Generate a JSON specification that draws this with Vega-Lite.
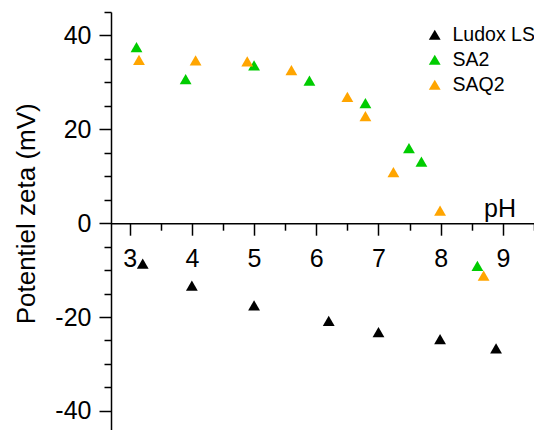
{
  "$schema": "https://vega.github.io/schema/vega-lite/v6.json",
  "width": 423,
  "height": 420,
  "autosize": {"type": "none"},
  "padding": {"left": 111, "top": 12, "right": 0, "bottom": 0},
  "background": "white",
  "config": {
    "view": {"stroke": null},
    "font": "Liberation Sans",
    "axis": {"grid": false, "domainColor": "#000000", "tickColor": "#000000", "labelColor": "#000000", "titleColor": "#000000", "domainWidth": 1.5, "tickWidth": 1.5, "labelFont": "Liberation Sans", "titleFont": "Liberation Sans", "titleFontWeight": "normal"}
  },
  "data": {
    "values": [
      {"pH": 3.21, "zeta": -8.6, "sample": "Ludox LS"},
      {"pH": 4.0, "zeta": -13.3, "sample": "Ludox LS"},
      {"pH": 5.0, "zeta": -17.5, "sample": "Ludox LS"},
      {"pH": 6.2, "zeta": -20.8, "sample": "Ludox LS"},
      {"pH": 7.0, "zeta": -23.2, "sample": "Ludox LS"},
      {"pH": 7.99, "zeta": -24.7, "sample": "Ludox LS"},
      {"pH": 8.89, "zeta": -26.7, "sample": "Ludox LS"},
      {"pH": 3.11, "zeta": 37.5, "sample": "SA2"},
      {"pH": 3.9, "zeta": 30.7, "sample": "SA2"},
      {"pH": 5.0, "zeta": 33.6, "sample": "SA2"},
      {"pH": 5.89, "zeta": 30.4, "sample": "SA2"},
      {"pH": 6.79, "zeta": 25.6, "sample": "SA2"},
      {"pH": 7.49, "zeta": 16.0, "sample": "SA2"},
      {"pH": 7.69, "zeta": 13.1, "sample": "SA2"},
      {"pH": 8.59, "zeta": -9.1, "sample": "SA2"},
      {"pH": 3.15, "zeta": 34.8, "sample": "SAQ2"},
      {"pH": 4.06, "zeta": 34.7, "sample": "SAQ2"},
      {"pH": 4.89, "zeta": 34.5, "sample": "SAQ2"},
      {"pH": 5.6, "zeta": 32.6, "sample": "SAQ2"},
      {"pH": 6.5, "zeta": 26.9, "sample": "SAQ2"},
      {"pH": 6.79, "zeta": 22.8, "sample": "SAQ2"},
      {"pH": 7.24, "zeta": 10.9, "sample": "SAQ2"},
      {"pH": 7.99, "zeta": 2.7, "sample": "SAQ2"},
      {"pH": 8.69, "zeta": -11.2, "sample": "SAQ2"}
    ]
  },
  "resolve": {"axis": {"x": "independent", "y": "independent"}},
  "layer": [
    {
      "mark": {"type": "point", "opacity": 0},
      "encoding": {
        "x": {"field": "pH", "type": "quantitative", "scale": {"domain": [2.7, 9.5], "nice": false, "zero": false},
          "axis": {"orient": "bottom", "offset": -208.8, "values": [3.5, 4.5, 5.5, 6.5, 7.5, 8.5, 9.5], "tickSize": 7, "labels": false, "domain": false, "title": null}},
        "y": {"field": "zeta", "type": "quantitative", "scale": {"domain": [-44.5, 45], "nice": false, "zero": false},
          "axis": {"orient": "left", "values": [45, 35, 30, 25, 15, 10, 5, -5, -10, -15, -25, -30, -35], "tickSize": 7, "labels": false, "domain": false, "title": null}}
      }
    },
    {
      "mark": {"type": "point", "shape": "triangle-up", "filled": true, "size": 140, "opacity": 1, "strokeWidth": 0},
      "encoding": {
        "x": {"field": "pH", "type": "quantitative", "scale": {"domain": [2.7, 9.5], "nice": false, "zero": false},
          "axis": {"orient": "bottom", "offset": -208.8, "values": [3, 4, 5, 6, 7, 8, 9], "tickSize": 12, "labelFontSize": 25, "labelPadding": 11, "labelFlush": false,
            "title": "pH", "titleFontSize": 25, "titleX": 388.5, "titleY": -6.3, "titleAlign": "center", "titleBaseline": "alphabetic", "titleAngle": 0}},
        "y": {"field": "zeta", "type": "quantitative", "scale": {"domain": [-44.5, 45], "nice": false, "zero": false},
          "axis": {"orient": "left", "values": [40, 20, 0, -20, -40], "tickSize": 12, "labelFontSize": 25, "labelPadding": 8, "labelFlush": false,
            "labelExpr": "'' + datum.value",
            "title": "Potentiel zeta (mV)", "titleFontSize": 26, "titleX": -77, "titleY": 201.3, "titleAngle": -90, "titleAlign": "center", "titleBaseline": "alphabetic"}},
        "color": {"field": "sample", "type": "nominal",
          "scale": {"domain": ["Ludox LS", "SA2", "SAQ2"], "range": ["#000000", "#00cc00", "#ffa500"]},
          "legend": {"title": null, "orient": "none", "legendX": 314, "legendY": 13, "symbolType": "triangle-up", "symbolSize": 140, "symbolStrokeWidth": 0, "labelFontSize": 19.5, "labelFont": "Liberation Sans", "labelColor": "#000000", "labelOffset": 8, "rowPadding": 4, "padding": 0}}
      }
    }
  ]
}
